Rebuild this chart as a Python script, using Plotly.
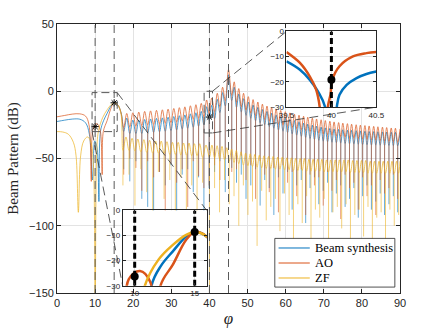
import plotly.graph_objects as go

# ---- data (phi in degrees, pattern in dB) ----
# part of each curve left of the first sidelobe null
bs_head_phi = [0, 2, 4, 6, 7.5, 8.5, 9.3, 9.9, 10.5, 11.0, 11.4, 12.2, 13.18, 14.29, 15.0, 16.0, 16.9]
bs_head_db = [-22.5, -21.5, -20.7, -20.8, -23.5, -32, -66, -37, -42, -82, -30, -22, -16.3, -10.4, -8.6, -10.4, -17]
ao_head_phi = [0, 2, 4, 6, 7.5, 8.4, 9.0, 9.5, 10.44, 11.3, 11.85, 12.15, 13.18, 14.29, 15.0, 16.0, 16.8]
ao_head_db = [-19, -18, -17, -16.8, -18.5, -25, -67, -27.5, -24.1, -28.5, -62, -30, -21.6, -11.7, -8.6, -10.4, -16]
zf_head_phi = [0, 1.5, 3, 4.3, 5.0, 5.6, 6.2, 7.0, 8.0, 8.8, 9.5, 10.0, 10.4, 10.85, 12.0, 13.18, 14.29, 15.0, 16.0, 16.8]
zf_head_db = [-30, -30.3, -32, -38, -48, -90, -48, -37, -34, -37, -52, -170, -48, -30, -19.5, -13.7, -9.7, -8.6, -10.4, -17]

# sidelobe nulls / peaks shared by beam synthesis and AO
null_phi = [17.5, 19.1, 20.7, 22.25, 23.8, 25.35, 26.9, 28.4, 29.9, 31.4,
            32.85, 34.3, 35.75, 37.15, 38.55, 39.92, 41.35, 42.75, 44.15, 45.85,
            47.1, 48.35, 49.6, 50.85, 52.1, 53.3, 54.5, 55.7, 56.9, 58.1,
            59.3, 60.5, 61.7, 62.9, 64.1, 65.25, 66.4, 67.55, 68.7, 69.85,
            71.0, 72.15, 73.3, 74.45, 75.6, 76.75, 77.9, 79.05, 80.2, 81.35,
            82.5, 83.65, 84.8, 85.95, 87.1, 88.25, 89.4]
peak_phi = [18.3, 19.9, 21.45, 23.0, 24.55, 26.1, 27.65, 29.15, 30.65, 32.1,
            33.55, 35.0, 36.45, 37.85, 39.25, 40.6, 42.05, 43.45, 45.0, 46.5,
            47.7, 48.95, 50.2, 51.45, 52.7, 53.9, 55.1, 56.3, 57.5, 58.7,
            59.9, 61.1, 62.3, 63.5, 64.7, 65.8, 67.0, 68.1, 69.3, 70.4,
            71.6, 72.7, 73.9, 75.0, 76.2, 77.3, 78.5, 79.6, 80.8, 81.9,
            83.1, 84.2, 85.4, 86.5, 87.7, 88.8, 90.0]
ao_peak_db = [-16.5, -16.0, -15.5, -15.0, -14.6, -14.2, -13.8, -13.3, -12.8, -12.2,
              -11.6, -10.8, -10.0, -9.0, -6.5, -5.0, -1.5, 3.0, 16.0, 7.0,
              2.0, -1.5, -4.0, -6.2, -8.0, -9.6, -11.0, -12.2, -13.3, -14.3,
              -15.2, -16.1, -17.0, -17.8, -18.6, -19.3, -20.0, -20.6, -21.2, -21.8,
              -22.3, -22.8, -23.3, -23.7, -24.1, -24.5, -24.9, -25.2, -25.5, -25.8,
              -26.1, -26.4, -26.7, -27.0, -27.3, -27.5, -28.0]
# level where neighbouring lobes meet, and how deep the null spike goes
ao_rim_db = [-27, -26.5, -26, -25.5, -25, -24.6, -24.2, -23.8, -23.3, -22.8,
             -22.2, -21.6, -20.8, -20, -19, -16.5, -15, -11.5, -7, -3,
             -8, -11.5, -14, -16.2, -18, -19.6, -21, -22.2, -23.3, -24.3,
             -25.2, -26.1, -27, -27.8, -28.6, -29.3, -30, -30.6, -31.2, -31.8,
             -32.3, -32.8, -33.3, -33.7, -34.1, -34.5, -34.9, -35.2, -35.5, -35.8,
             -36.1, -36.4, -36.7, -37, -37.3, -37.5, -38]
ao_null_db = [-62, -50, -57, -74, -52, -64, -60, -92, -54, -68,
              -58, -86, -52, -63, -72, -70, -55, -66, -50, -60,
              -58, -48, -66, -55, -80, -52, -62, -75, -57, -90,
              -55, -68, -60, -78, -58, -92, -62, -70, -64, -85,
              -60, -74, -66, -95, -62, -72, -68, -88, -64, -78,
              -70, -92, -66, -76, -72, -62, -80]
bs_peak_db = [-20.0, -21.5, -21.5, -21.0, -20.6, -20.2, -19.8, -19.3, -18.8, -18.2,
              -17.6, -16.8, -16.0, -15.0, -11.5, -10.5, -6.0, -1.0, 12.3, 3.0,
              -2.0, -5.5, -8.0, -10.2, -12.0, -13.6, -15.0, -16.4, -17.6, -18.8,
              -19.8, -20.8, -21.8, -22.7, -23.6, -24.4, -25.2, -25.9, -26.6, -27.2,
              -27.6, -28.0, -28.3, -28.6, -28.9, -29.1, -29.3, -29.5, -29.7, -29.9,
              -30.0, -30.1, -30.2, -30.3, -30.4, -30.5, -30.7]
bs_rim_db = [-30, -31.5, -31.5, -31.5, -31, -30.6, -30.2, -29.8, -29.3, -28.8,
             -28.2, -27.6, -26.8, -26, -25, -21.5, -20.5, -16, -11, -7,
             -12, -15.5, -18, -20.2, -22, -23.6, -25, -26.4, -27.6, -28.8,
             -29.8, -30.8, -31.8, -32.7, -33.6, -34.4, -35.2, -35.9, -36.6, -37.2,
             -37.6, -38, -38.3, -38.6, -38.9, -39.1, -39.3, -39.5, -39.7, -39.9,
             -40, -40.1, -40.2, -40.3, -40.4, -40.5, -40.7]
bs_null_db = [-58, -67, -52, -80, -86, -95, -60, -70, -55, -98,
              -62, -58, -75, -64, -90, -72, -60, -52, -75, -57,
              -68, -62, -80, -70, -58, -85, -66, -72, -92, -64,
              -76, -60, -88, -70, -66, -98, -72, -64, -84, -74,
              -68, -90, -76, -70, -86, -80, -72, -94, -78, -70,
              -88, -82, -76, -92, -84, -78, -90]

# ZF sidelobes
zf_null_phi = [17.3, 18.9, 20.45, 22.0, 23.55, 25.1, 26.6, 28.1, 29.6, 31.05,
               32.5, 33.95, 35.35, 36.75, 38.2, 40.0, 41.35, 42.65, 43.95, 45.2,
               46.45, 47.7, 48.9, 50.1, 51.3, 52.5, 53.7, 54.9, 56.1, 57.3,
               58.5, 59.7, 60.9, 62.05, 63.2, 64.35, 65.5, 66.65, 67.8, 68.95,
               70.1, 71.25, 72.4, 73.55, 74.7, 75.85, 77.0, 78.15, 79.3, 80.45,
               81.6, 82.75, 83.9, 85.05, 86.2, 87.35, 88.5, 89.65]
zf_peak_phi = [18.1, 19.7, 21.2, 22.8, 24.3, 25.85, 27.35, 28.85, 30.3, 31.8,
               33.2, 34.65, 36.05, 37.45, 39.1, 40.65, 42.0, 43.3, 44.55, 45.8,
               47.05, 48.3, 49.5, 50.7, 51.9, 53.1, 54.3, 55.5, 56.7, 57.9,
               59.1, 60.3, 61.5, 62.6, 63.8, 64.9, 66.1, 67.2, 68.4, 69.5,
               70.7, 71.8, 73.0, 74.1, 75.3, 76.4, 77.6, 78.7, 79.9, 81.0,
               82.2, 83.3, 84.5, 85.6, 86.8, 87.9, 89.1, 90.0]
zf_peak_db = [-34, -35, -35.5, -36, -36.5, -37, -37, -37.5, -38, -38,
              -38.5, -38.5, -39, -39, -40, -40, -40.5, -41, -42, -43,
              -44, -45, -46, -46.5, -47, -47.5, -48, -48.5, -48.5, -49,
              -49, -49.5, -49.5, -50, -50, -50, -50.5, -50.5, -50.5, -50.5,
              -51, -51, -51, -51, -51, -51, -51.5, -51.5, -51.5, -51.5,
              -52, -52, -52, -52, -52, -52, -52, -52]
zf_rim_db = [-44, -44, -44.5, -45, -45.5, -46, -46, -46.5, -47, -47,
             -47.5, -47.5, -48, -48, -49, -49, -49.5, -50, -51, -52,
             -53, -54, -55, -55.5, -56, -56.5, -57, -57.5, -57.5, -58,
             -58, -58.5, -58.5, -59, -59, -59, -59.5, -59.5, -59.5, -59.5,
             -60, -60, -60, -60, -60, -60, -60.5, -60.5, -60.5, -60.5,
             -61, -61, -61, -61, -61, -61, -61, -61]
zf_null_db = [-70, -62, -85, -58, -75, -95, -60, -80, -66, -110,
              -64, -88, -70, -100, -68, -170, -72, -90, -66, -84,
              -78, -100, -70, -92, -82, -115, -74, -96, -86, -80,
              -104, -76, -92, -120, -84, -98, -78, -112, -88, -94,
              -80, -118, -90, -86, -102, -84, -125, -92, -88, -108,
              -86, -120, -94, -90, -110, -88, -100, -92]

# close-up around 40 deg (inset)
z40_ao_phi = [39.5, 39.65, 39.76, 39.83, 39.87, 39.915, 39.96, 39.99, 40.01, 40.09, 40.24, 40.39, 40.5]
z40_ao_db = [-8.2, -12.5, -17.9, -23.1, -30, -60, -30, -25, -19.2, -13.8, -9.9, -8.6, -8.2]
z40_bs_phi = [39.5, 39.65, 39.76, 39.85, 39.93, 39.995, 40.06, 40.09, 40.17, 40.28, 40.39, 40.5]
z40_bs_db = [-11.9, -15.2, -19.2, -23.8, -30, -60, -30, -25.1, -21.2, -18.5, -16.9, -15.9]

# marked directions
mark_phi = [10, 15, 40]
mark_db = [-26.3, -8.6, -19.2]
vline_phi = [10, 15, 40, 45]

BLUE, ORANGE, YELLOW = '#0072BD', '#D95319', '#EDB120'
INK = '#262626'


def weave(a_list, b_list):
    out = []
    for a, b in zip(a_list, b_list):
        out += [a, b]
    return out


def spikes(xs, tops, bottoms):
    x, y = [], []
    for a, t, b in zip(xs, tops, bottoms):
        x += [a, a, None]
        y += [t, b, None]
    return x, y


series = [
    ('Beam synthesis', BLUE,
     bs_head_phi + weave(null_phi, peak_phi), bs_head_db + weave(bs_rim_db, bs_peak_db),
     spikes(null_phi, bs_rim_db, bs_null_db)),
    ('AO', ORANGE,
     ao_head_phi + weave(null_phi, peak_phi), ao_head_db + weave(ao_rim_db, ao_peak_db),
     spikes(null_phi, ao_rim_db, ao_null_db)),
    ('ZF', YELLOW,
     zf_head_phi + weave(zf_null_phi, zf_peak_phi), zf_head_db + weave(zf_rim_db, zf_peak_db),
     spikes(zf_null_phi, zf_rim_db, zf_null_db)),
]

fig = go.Figure()

# main axes
for name, c, x, y, (sx, sy) in series:
    fig.add_trace(go.Scatter(x=sx, y=sy, mode='lines', showlegend=False,
                             line=dict(color=c, width=0.6)))
    fig.add_trace(go.Scatter(x=x, y=y, name=name, mode='lines', showlegend=False,
                             line=dict(color=c, width=0.7, shape='spline', smoothing=1)))
fig.add_trace(go.Scatter(x=mark_phi, y=mark_db, mode='markers', showlegend=False,
                         marker=dict(symbol='asterisk-open', size=6, color='black',
                                     line=dict(color='black', width=1))))

# inset 1: 9..16 deg
for name, c, x, y, _ in series:
    fig.add_trace(go.Scatter(x=x, y=y, mode='lines', showlegend=False, xaxis='x2', yaxis='y2',
                             line=dict(color=c, width=2.5, shape='spline', smoothing=1)))
for v in mark_phi[:2]:
    fig.add_trace(go.Scatter(x=[v, v], y=[-30, 0], mode='lines', showlegend=False,
                             xaxis='x2', yaxis='y2',
                             line=dict(color='black', width=3, dash='6px,3px')))
fig.add_trace(go.Scatter(x=mark_phi[:2], y=mark_db[:2], mode='markers', showlegend=False,
                         xaxis='x2', yaxis='y2', marker=dict(size=8, color='black')))

# inset 2: 39.5..40.5 deg
for x, y, c in [(z40_bs_phi, z40_bs_db, BLUE), (z40_ao_phi, z40_ao_db, ORANGE)]:
    fig.add_trace(go.Scatter(x=x, y=y, mode='lines', showlegend=False, xaxis='x3', yaxis='y3',
                             line=dict(color=c, width=2.5, shape='spline', smoothing=1)))
fig.add_trace(go.Scatter(x=[40, 40], y=[-30, 0], mode='lines', showlegend=False,
                         xaxis='x3', yaxis='y3',
                         line=dict(color='black', width=3, dash='6px,3px')))
fig.add_trace(go.Scatter(x=mark_phi[2:], y=mark_db[2:], mode='markers', showlegend=False,
                         xaxis='x3', yaxis='y3', marker=dict(size=8, color='black')))

# dashed guides, zoom boxes and connectors
xr, yr = [0, 90], [-150, 50]
in1x, in1y = [0.1915, 0.4364], [0.027, 0.307]
in2x, in2y = [0.669, 0.931], [0.691, 0.9725]


def dx(f):
    return xr[0] + f * (xr[1] - xr[0])


def dy(f):
    return yr[0] + f * (yr[1] - yr[0])


shapes = []
for v in vline_phi:
    shapes.append(dict(type='line', xref='x', yref='y', x0=v, x1=v, y0=yr[0], y1=yr[1],
                       layer='above', line=dict(color='#5a5a5a', width=1, dash='8px,5px')))
box = dict(color='#5a5a5a', width=1, dash='8px,4px')
shapes.append(dict(type='rect', xref='x', yref='y', x0=9.2, x1=15.8, y0=-30, y1=-1,
                   layer='above', line=box))
shapes.append(dict(type='rect', xref='x', yref='y', x0=38.6, x1=40.8, y0=-31, y1=0,
                   layer='above', line=box))
conn = dict(color='#303030', width=0.8, dash='9px,5px')
shapes.append(dict(type='line', xref='x', yref='y', x0=15.8, y0=-1, x1=dx(in1x[1]), y1=dy(in1y[1]),
                   layer='above', line=conn))
shapes.append(dict(type='line', xref='x', yref='y', x0=9.2, y0=-30, x1=dx(in1x[0]), y1=dy(in1y[0]),
                   layer='above', line=conn))
shapes.append(dict(type='line', xref='x', yref='y', x0=40.8, y0=0, x1=dx(in2x[0]), y1=dy(in2y[1]),
                   layer='above', line=conn))
shapes.append(dict(type='line', xref='x', yref='y', x0=40.8, y0=-31, x1=dx(in2x[1]), y1=dy(in2y[0]),
                   layer='above', line=conn))

# legend box drawn by hand (MATLAB-like tight spacing)
leg_x0, leg_x1, leg_y0, leg_y1 = 0.635, 0.985, 0.022, 0.203
leg_rows = [0.1673, 0.1115, 0.0558]
shapes.append(dict(type='rect', xref='paper', yref='paper', x0=leg_x0, x1=leg_x1, y0=leg_y0, y1=leg_y1,
                   layer='above', fillcolor='white', line=dict(color=INK, width=0.8)))
annotations = []
for (name, c, *_), ry in zip(series, leg_rows):
    shapes.append(dict(type='line', xref='paper', yref='paper', x0=0.646, x1=0.737, y0=ry, y1=ry,
                       layer='above', line=dict(color=c, width=1)))
    annotations.append(dict(xref='paper', yref='paper', x=0.745, y=ry, text=name, showarrow=False,
                            xanchor='left', yanchor='middle',
                            font=dict(family='Liberation Serif', size=12.5, color='black')))

axis_style = dict(showline=True, mirror='ticks', linecolor=INK, linewidth=0.8,
                  ticks='inside', tickcolor=INK, showgrid=True, gridcolor='#e3e3e3',
                  gridwidth=1, zeroline=False, automargin=False)
inset_style = dict(axis_style, ticklen=3, tickfont=dict(size=8, color=INK))

fig.update_layout(
    width=443, height=332,
    margin=dict(l=57, r=43, t=24, b=39),
    paper_bgcolor='white', plot_bgcolor='white',
    font=dict(family='Liberation Sans', size=11, color=INK),
    hovermode=False,
    showlegend=False,
    shapes=shapes,
    annotations=annotations,
    xaxis=dict(axis_style, range=xr, dtick=10, tick0=0, ticklen=4,
               title=dict(text='<i>φ</i>', font=dict(family='Liberation Serif', size=17, color=INK),
                          standoff=4)),
    yaxis=dict(axis_style, range=yr, dtick=50, tick0=0, ticklen=4,
               title=dict(text='Beam Pattern (dB)',
                          font=dict(family='Liberation Serif', size=15, color=INK), standoff=6)),
    xaxis2=dict(inset_style, domain=in1x, anchor='y2', range=[9, 16], tickvals=[10, 15]),
    yaxis2=dict(inset_style, domain=in1y, anchor='x2', range=[-30, 0], tickvals=[0, -10, -20, -30]),
    xaxis3=dict(inset_style, domain=in2x, anchor='y3', range=[39.5, 40.5], tickvals=[39.5, 40, 40.5]),
    yaxis3=dict(inset_style, domain=in2y, anchor='x3', range=[-30, 0], tickvals=[0, -10, -20, -30]),
)

# the page's default body margin would shift the figure by 8px
fig.write_html("out.html", config={'displayModeBar': False},
               post_script="document.body.style.margin='0px';")
